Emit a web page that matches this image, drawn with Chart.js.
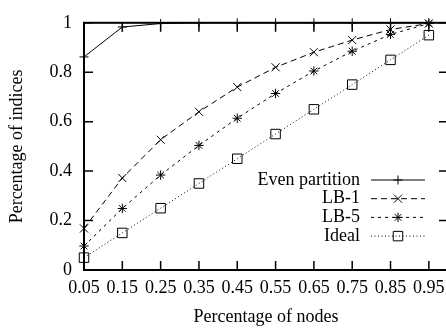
<!DOCTYPE html>
<html>
<head>
<meta charset="utf-8">
<script src="https://cdn.jsdelivr.net/npm/chart.js"></script>
<style>
  html, body { margin: 0; padding: 0; background: #fff; overflow: hidden; }
  #wrap { width: 460px; height: 331px; position: relative; }
</style>
</head>
<body>
<div id="wrap"><canvas id="chart"></canvas></div>
<script>
const xValues = [0.05, 0.15, 0.25, 0.35, 0.45, 0.55, 0.65, 0.75, 0.85, 0.95];
const yTicks = [0, 0.2, 0.4, 0.6, 0.8, 1];

const evenPartition = [0.862, 0.983, 0.997, 1, 1, 1, 1, 1, 1, 1];
const lb1 = [0.168, 0.372, 0.527, 0.64, 0.74, 0.82, 0.881, 0.93, 0.973, 0.997];
const lb5 = [0.097, 0.249, 0.384, 0.504, 0.614, 0.714, 0.805, 0.885, 0.953, 0.997];
const ideal = [0.05, 0.15, 0.25, 0.35, 0.45, 0.55, 0.65, 0.75, 0.85, 0.95];

const FONT = '"Liberation Serif", "Times New Roman", serif';

const toPoints = (vals) => vals.map((v, i) => ({ x: xValues[i], y: v }));

const makeSet = (label, vals, style, radius, dash) => ({
  label,
  data: toPoints(vals),
  borderColor: "#000",
  borderWidth: 1,
  borderDash: dash,
  pointStyle: style,
  pointRadius: radius,
  pointHoverRadius: radius,
  pointBorderWidth: 1,
  pointBorderColor: "#000",
  pointBackgroundColor: "rgba(0,0,0,0)",
  fill: false,
  tension: 0,
  clip: false,
});

// gnuplot-like frame with inward ticks
const framePlugin = {
  id: "frame",
  afterDatasetsDraw(chart) {
    const { ctx, chartArea: a, scales } = chart;
    ctx.save();
    ctx.strokeStyle = "#000";
    ctx.lineWidth = 1.5;
    ctx.beginPath();
    xValues.forEach((v) => {
      const px = scales.x.getPixelForValue(v);
      ctx.moveTo(px, a.bottom);
      ctx.lineTo(px, a.bottom - 9);
      ctx.moveTo(px, a.top);
      ctx.lineTo(px, a.top + 9);
    });
    yTicks.forEach((v) => {
      const py = scales.y.getPixelForValue(v);
      ctx.moveTo(a.left, py);
      ctx.lineTo(a.left + 9, py);
      ctx.moveTo(a.right, py);
      ctx.lineTo(a.right - 9, py);
    });
    ctx.stroke();
    ctx.lineWidth = 2;
    ctx.strokeRect(a.left, a.top, a.right - a.left, a.bottom - a.top);
    ctx.restore();
  },
};

// legend: text right-aligned, sample line on the right
const legendPlugin = {
  id: "gpLegend",
  afterDraw(chart) {
    const { ctx, chartArea: a } = chart;
    const textRight = a.right - 88;
    const x0 = textRight + 11;
    const x1 = textRight + 65;
    chart.data.datasets.forEach((ds, i) => {
      const y = a.bottom - 90 + i * 18.7;
      ctx.save();
      ctx.font = "18px " + FONT;
      ctx.fillStyle = "#000";
      ctx.textAlign = "right";
      ctx.textBaseline = "middle";
      ctx.fillText(ds.label, textRight, y);
      ctx.strokeStyle = ds.borderColor;
      ctx.lineWidth = ds.borderWidth;
      ctx.setLineDash(ds.borderDash || []);
      ctx.beginPath();
      ctx.moveTo(x0, y);
      ctx.lineTo(x1, y);
      ctx.stroke();
      ctx.setLineDash([]);
      ctx.fillStyle = "rgba(0,0,0,0)";
      Chart.helpers.drawPoint(
        ctx,
        { pointStyle: ds.pointStyle, radius: ds.pointRadius, borderWidth: 1 },
        (x0 + x1) / 2,
        y
      );
      ctx.restore();
    });
  },
};

new Chart("chart", {
  type: "line",
  data: {
    datasets: [
      makeSet("Even partition", evenPartition, "cross", 4.5, []),
      makeSet("LB-1", lb1, "crossRot", 5.7, [6, 4]),
      makeSet("LB-5", lb5, "star", 4.7, [3, 4]),
      makeSet("Ideal", ideal, "rect", 6.7, [1, 2.5]),
    ],
  },
  options: {
    responsive: true,
    maintainAspectRatio: false,
    animation: false,
    layout: { padding: { top: 12, right: 12, left: 0, bottom: 0 } },
    plugins: {
      legend: { display: false },
      tooltip: { enabled: false },
    },
    scales: {
      x: {
        type: "linear",
        min: 0.05,
        max: 1.0,
        afterBuildTicks: (scale) => {
          scale.ticks = xValues.map((v) => ({ value: v }));
        },
        afterFit: (scale) => {
          scale.height = 61;
        },
        grid: { display: false, drawTicks: false },
        border: { display: false },
        ticks: {
          autoSkip: false,
          maxRotation: 0,
          padding: 7,
          color: "#000",
          font: { family: FONT, size: 18 },
          callback: (v) => Number(v).toFixed(2),
        },
        title: {
          display: true,
          text: "Percentage of nodes",
          color: "#000",
          font: { family: FONT, size: 18 },
          padding: { top: 3, bottom: 3 },
        },
      },
      y: {
        min: 0,
        max: 1,
        afterBuildTicks: (scale) => {
          scale.ticks = yTicks.map((v) => ({ value: v }));
        },
        afterFit: (scale) => {
          scale.width = 84;
        },
        grid: { display: false, drawTicks: false },
        border: { display: false },
        ticks: {
          padding: 12,
          color: "#000",
          font: { family: FONT, size: 18 },
          callback: (v) => String(Math.round(v * 10) / 10),
        },
        title: {
          display: true,
          text: "Percentage of indices",
          color: "#000",
          font: { family: FONT, size: 18 },
          padding: { top: 6, bottom: 6 },
        },
      },
    },
  },
  plugins: [framePlugin, legendPlugin],
});
</script>
</body>
</html>
